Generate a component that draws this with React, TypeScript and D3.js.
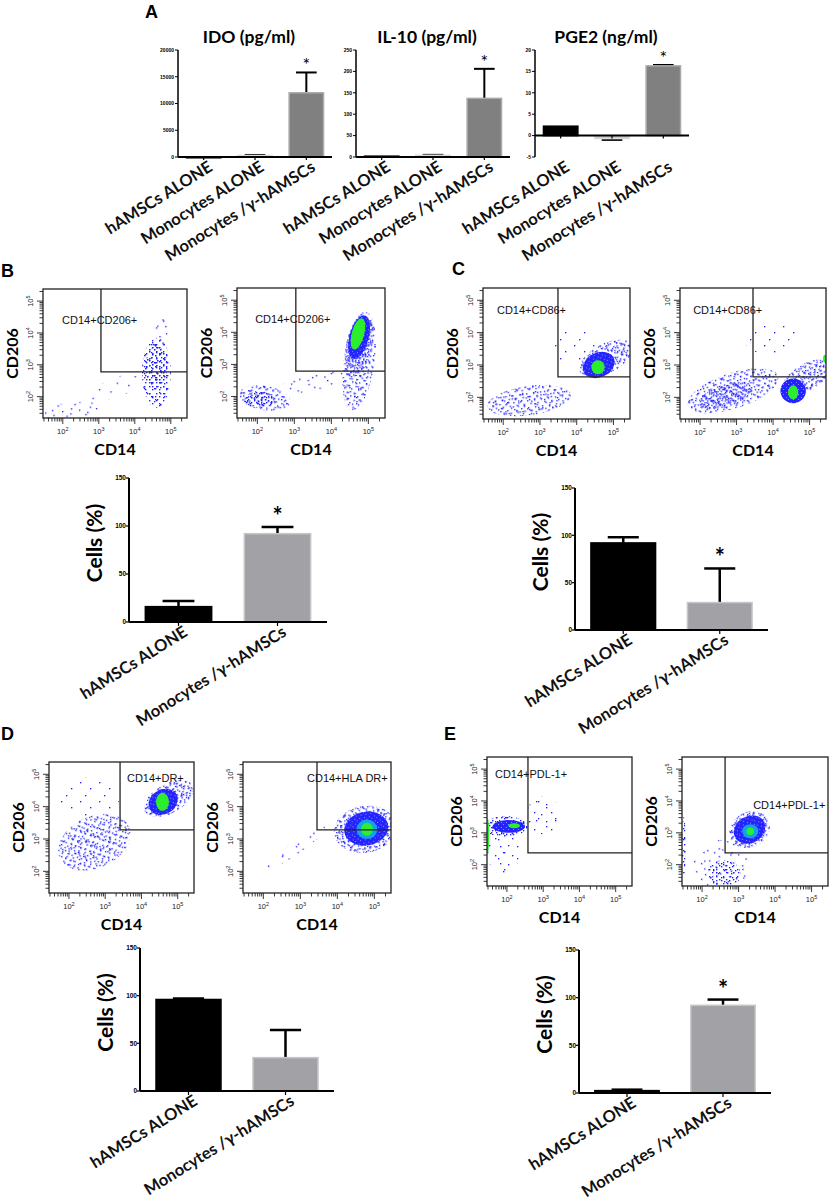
import * as d3 from "d3";

// --- fonts ---
const BOLD = "Lato, 'Open Sans', sans-serif";
const PLAIN = "'Liberation Sans', Arial, sans-serif";

// --- panel A data ---
const groupsA = ["hAMSCs ALONE", "Monocytes ALONE", "Monocytes /γ-hAMSCs"];
const idoMean = [0, 280, 12000];
const idoErr = [0, 380, 15800];
const idoTicks = [0, 5000, 10000, 15000, 20000];
const il10Mean = [2, 4, 137];
const il10Err = [2, 5, 206];
const il10Ticks = [0, 50, 100, 150, 200, 250];
const pge2Mean = [2.2, -0.7, 16.3];
const pge2Err = [2.2, -1.0, 16.5];
const pge2Ticks = [-5, 0, 5, 10, 15, 20];
const starA = [false, false, true];

// --- cells (%) bar data, panels B-E ---
const groupsCells = ["hAMSCs ALONE", "Monocytes /γ-hAMSCs"];
const cellsTicks = [0, 50, 100, 150];
const cellsB = [16, 92];
const cellsBErr = [22, 99];
const starB = [false, true];
const cellsC = [92, 29];
const cellsCErr = [98, 65];
const starC = [false, true];
const cellsD = [96, 35];
const cellsDErr = [97, 64];
const starD = [false, false];
const cellsE = [2.5, 92];
const cellsEErr = [3.5, 98];
const starE = [false, true];

// --- flow plots: event clouds as ellipses in log10 units (CD14, CD206) ---
type Cluster = { x: number; y: number; rx: number; ry: number; rot: number; d: string };
const decades = [2, 3, 4, 5];

const flowB1: Cluster[] = [
  { x: 2.3, y: 1.55, rx: 0.85, ry: 0.28, rot: 5, d: "sparse" },
  { x: 3.5, y: 2.3, rx: 0.8, ry: 0.3, rot: 20, d: "trace" },
  { x: 4.7, y: 4.0, rx: 0.22, ry: 0.55, rot: -10, d: "sparse" },
  { x: 4.6, y: 2.75, rx: 0.4, ry: 1.1, rot: 0, d: "light" },
  { x: 4.6, y: 2.95, rx: 0.3, ry: 0.65, rot: 0, d: "medium" },
];
const flowB2: Cluster[] = [
  { x: 3.5, y: 2.45, rx: 0.9, ry: 0.28, rot: 12, d: "sparse" },
  { x: 2.2, y: 1.95, rx: 0.7, ry: 0.38, rot: -10, d: "light" },
  { x: 2.05, y: 1.9, rx: 0.4, ry: 0.25, rot: 0, d: "medium" },
  { x: 4.75, y: 3.1, rx: 0.42, ry: 1.55, rot: -8, d: "light" },
  { x: 4.75, y: 3.6, rx: 0.35, ry: 1.0, rot: -12, d: "medium" },
  { x: 4.75, y: 3.85, rx: 0.26, ry: 0.7, rot: -15, d: "dense" },
  { x: 4.72, y: 3.95, rx: 0.17, ry: 0.5, rot: -15, d: "core" },
];
const flowC1: Cluster[] = [
  { x: 3.9, y: 3.6, rx: 0.7, ry: 0.55, rot: 0, d: "trace" },
  { x: 2.7, y: 1.9, rx: 1.15, ry: 0.45, rot: 8, d: "light" },
  { x: 4.8, y: 3.2, rx: 0.8, ry: 0.45, rot: 28, d: "medium" },
  { x: 4.6, y: 3.0, rx: 0.45, ry: 0.38, rot: 25, d: "dense" },
  { x: 4.58, y: 2.93, rx: 0.18, ry: 0.22, rot: 0, d: "core" },
];
const flowC2: Cluster[] = [
  { x: 4.0, y: 3.8, rx: 0.8, ry: 0.5, rot: 0, d: "trace" },
  { x: 2.9, y: 2.2, rx: 1.3, ry: 0.55, rot: 18, d: "light" },
  { x: 2.7, y: 2.05, rx: 0.75, ry: 0.35, rot: 18, d: "medium" },
  { x: 4.9, y: 2.6, rx: 0.75, ry: 0.42, rot: 32, d: "medium" },
  { x: 4.55, y: 2.2, rx: 0.35, ry: 0.38, rot: 0, d: "dense" },
  { x: 4.55, y: 2.15, rx: 0.14, ry: 0.22, rot: 0, d: "core" },
  { x: 5.42, y: 3.2, rx: 0.05, ry: 0.12, rot: 0, d: "core" },
];
const flowD1: Cluster[] = [
  { x: 2.5, y: 4.3, rx: 0.9, ry: 0.6, rot: 0, d: "trace" },
  { x: 2.7, y: 2.9, rx: 1.05, ry: 0.8, rot: 25, d: "light" },
  { x: 2.6, y: 2.9, rx: 0.6, ry: 0.5, rot: 25, d: "sparse" },
  { x: 4.75, y: 4.25, rx: 0.75, ry: 0.45, rot: 30, d: "medium" },
  { x: 4.6, y: 4.15, rx: 0.42, ry: 0.38, rot: 30, d: "dense" },
  { x: 4.58, y: 4.15, rx: 0.18, ry: 0.28, rot: 0, d: "core" },
];
const flowD2: Cluster[] = [
  { x: 2.9, y: 2.75, rx: 0.95, ry: 0.2, rot: 35, d: "sparse" },
  { x: 4.75, y: 3.3, rx: 0.85, ry: 0.72, rot: 10, d: "medium" },
  { x: 4.78, y: 3.32, rx: 0.6, ry: 0.52, rot: 10, d: "dense" },
  { x: 4.8, y: 3.3, rx: 0.28, ry: 0.3, rot: 0, d: "ring" },
  { x: 4.8, y: 3.3, rx: 0.16, ry: 0.2, rot: 0, d: "core" },
];
const flowE1: Cluster[] = [
  { x: 1.9, y: 2.4, rx: 0.45, ry: 0.7, rot: 0, d: "sparse" },
  { x: 3.0, y: 3.55, rx: 0.45, ry: 0.6, rot: 0, d: "sparse" },
  { x: 1.95, y: 3.2, rx: 0.62, ry: 0.32, rot: 0, d: "medium" },
  { x: 2.05, y: 3.2, rx: 0.45, ry: 0.2, rot: 0, d: "dense" },
  { x: 2.2, y: 3.22, rx: 0.16, ry: 0.08, rot: 0, d: "core" },
  { x: 1.47, y: 2.9, rx: 0.04, ry: 0.55, rot: 0, d: "core" },
];
const flowE2: Cluster[] = [
  { x: 2.5, y: 1.9, rx: 0.8, ry: 0.85, rot: 40, d: "sparse" },
  { x: 2.6, y: 1.7, rx: 0.45, ry: 0.45, rot: 0, d: "light" },
  { x: 1.5, y: 2.6, rx: 0.06, ry: 0.9, rot: 0, d: "light" },
  { x: 3.3, y: 3.1, rx: 0.58, ry: 0.55, rot: 30, d: "medium" },
  { x: 3.3, y: 3.1, rx: 0.45, ry: 0.42, rot: 30, d: "dense" },
  { x: 3.32, y: 3.05, rx: 0.22, ry: 0.22, rot: 0, d: "ring" },
  { x: 3.32, y: 3.05, rx: 0.1, ry: 0.12, rot: 0, d: "core" },
];

// --- styles ---
const X_LOG = [1.45, 5.45];
const Y_LOG = [1.33, 5.38];
const BLUE = "#1f1fff";
// dot tiles with co-prime sizes; stacking several gives an irregular speckle
const TILES = [
  { id: "t5", size: 5, dots: [[1, 2]] },
  { id: "t7", size: 7, dots: [[2, 1], [5, 4]] },
  { id: "t11", size: 11, dots: [[1, 3], [6, 8], [9, 1]] },
  { id: "t13", size: 13, dots: [[3, 2], [8, 6], [11, 11], [1, 9]] },
  { id: "t17", size: 17, dots: [[2, 5], [11, 2], [7, 13]] },
  { id: "t19", size: 19, dots: [[4, 3], [14, 9], [9, 16]] },
];
const LEVELS: Record<string, string[]> = {
  trace: ["t19"],
  sparse: ["t17", "t19"],
  light: ["t7", "t11", "t13", "t17"],
  medium: ["t5", "t7", "t11", "t13", "t17"],
  dense: ["solid-dense"],
  ring: ["solid-ring"],
  core: ["solid-core"],
};

function Patterns() {
  return (
    <defs>
      {TILES.map((p) => (
        <pattern key={p.id} id={`pat-${p.id}`} width={p.size} height={p.size} patternUnits="userSpaceOnUse">
          {p.dots.map(([dx, dy], i) => (
            <rect key={i} x={dx} y={dy} width={1.35} height={1.35} fill={BLUE} />
          ))}
        </pattern>
      ))}
      <pattern id="pat-solid-dense" width={5} height={5} patternUnits="userSpaceOnUse">
        <rect width={5} height={5} fill="#2424ff" />
        <rect x={1} y={2} width={1} height={1} fill="#8c8cff" />
        <rect x={3} y={4} width={1} height={1} fill="#8c8cff" />
      </pattern>
      <pattern id="pat-solid-ring" width={4} height={4} patternUnits="userSpaceOnUse">
        <rect width={4} height={4} fill="#14a2e6" />
      </pattern>
      <pattern id="pat-solid-core" width={4} height={4} patternUnits="userSpaceOnUse">
        <rect width={4} height={4} fill="#2cee2c" />
      </pattern>
    </defs>
  );
}

// rotated category label like GraphPad
function RotLabel({ x, y, text }: { x: number; y: number; text: string }) {
  return (
    <text
      transform={`translate(${x},${y}) rotate(-32)`}
      textAnchor="end"
      fontFamily={BOLD}
      fontWeight={700}
      fontSize={16.5}
      fill="#111"
    >
      {text}
    </text>
  );
}

type SmallProps = {
  title: string;
  mean: number[];
  err: number[];
  ticks: number[];
  x0: number;
  x1: number;
};

function SmallBars({ title, mean, err, ticks, x0, x1 }: SmallProps) {
  const top = 50;
  const bottom = 157;
  const y = d3.scaleLinear().domain([ticks[0], ticks[ticks.length - 1]]).range([bottom, top]);
  const x = d3.scaleBand().domain(groupsA).range([x0, x1]).paddingInner(0.33).paddingOuter(0.165);
  const bw = x.bandwidth();
  const fills = ["#000", "#cccccc", "#808080"];
  const strokes = ["#000", "#dcdcdc", "#aaaaaa"];
  return (
    <g>
      <text x={(x0 + x1) / 2 - 6} y={43} textAnchor="middle" fontFamily={BOLD} fontWeight={700} fontSize={17.5}>
        {title}
      </text>
      {groupsA.map((g, i) => {
        const bx = x(g)!;
        const cx = bx + bw / 2;
        const y0 = y(0);
        const ym = y(mean[i]);
        const ye = y(err[i]);
        return (
          <g key={g}>
            {err[i] !== mean[i] && (
              <g stroke="#000" strokeWidth={2}>
                <line x1={cx} x2={cx} y1={ym} y2={ye} />
                <line x1={cx - bw * 0.3} x2={cx + bw * 0.3} y1={ye} y2={ye} />
              </g>
            )}
            <rect
              x={bx}
              y={Math.min(ym, y0)}
              width={bw}
              height={Math.max(Math.abs(y0 - ym), 0.8)}
              fill={fills[i]}
              stroke={strokes[i]}
              strokeWidth={1.5}
            />
            {starA[i] && (
              <text x={cx} y={ye - 1} textAnchor="middle" fontFamily={BOLD} fontSize={18}>
                *
              </text>
            )}
            <line x1={cx} x2={cx} y1={y0} y2={y0 + 3} stroke="#000" strokeWidth={1.2} />
            <RotLabel x={cx + 10} y={bottom + 13} text={g} />
          </g>
        );
      })}
      <line x1={x0} x2={x0} y1={top} y2={bottom} stroke="#000" strokeWidth={1.5} />
      <line x1={x0} x2={x1} y1={y(0)} y2={y(0)} stroke="#000" strokeWidth={2} />
      {ticks.map((t) => (
        <g key={t}>
          <line x1={x0 - 3} x2={x0} y1={y(t)} y2={y(t)} stroke="#000" strokeWidth={1} />
          <text x={x0 - 4} y={y(t) + 1.8} textAnchor="end" fontFamily={PLAIN} fontWeight={700} fontSize={5}>
            {t}
          </text>
        </g>
      ))}
    </g>
  );
}

type CellsProps = {
  ax: number;
  width: number;
  top: number;
  bottom: number;
  mean: number[];
  err: number[];
  star: boolean[];
};

function CellsChart({ ax, width, top, bottom, mean, err, star }: CellsProps) {
  const y = d3.scaleLinear().domain([0, 150]).range([bottom, top]);
  const x = d3.scaleBand().domain(groupsCells).range([ax, ax + width]).paddingInner(0.33).paddingOuter(0.165);
  const bw = x.bandwidth();
  const fills = ["#000", "#a2a2a6"];
  const strokes = ["#000", "#c6c6c8"];
  const midY = (top + bottom) / 2 - 7;
  return (
    <g>
      {groupsCells.map((g, i) => {
        const bx = x(g)!;
        const cx = bx + bw / 2;
        const ym = y(mean[i]);
        const ye = y(err[i]);
        return (
          <g key={g}>
            <g stroke="#000" strokeWidth={2.5}>
              <line x1={cx} x2={cx} y1={ym} y2={ye} />
              <line x1={cx - bw * 0.24} x2={cx + bw * 0.24} y1={ye} y2={ye} />
            </g>
            <rect x={bx} y={ym} width={bw} height={bottom - ym} fill={fills[i]} stroke={strokes[i]} strokeWidth={1.5} />
            {star[i] && (
              <text x={cx} y={ye - 2} textAnchor="middle" fontFamily={BOLD} fontWeight={700} fontSize={24}>
                *
              </text>
            )}
            <line x1={cx} x2={cx} y1={bottom} y2={bottom + 4} stroke="#000" strokeWidth={1.2} />
            <RotLabel x={cx + 10} y={bottom + 13} text={g} />
          </g>
        );
      })}
      <line x1={ax} x2={ax} y1={top} y2={bottom} stroke="#000" strokeWidth={2} />
      <line x1={ax} x2={ax + width} y1={bottom} y2={bottom} stroke="#000" strokeWidth={2} />
      {cellsTicks.map((t) => (
        <g key={t}>
          <line x1={ax - 3} x2={ax} y1={y(t)} y2={y(t)} stroke="#000" strokeWidth={1.2} />
          <text x={ax - 3} y={y(t) + 2.2} textAnchor="end" fontFamily={PLAIN} fontWeight={700} fontSize={6.5}>
            {t}
          </text>
        </g>
      ))}
      <text
        transform={`translate(${ax - 35 + 7.5},${midY}) rotate(-90)`}
        textAnchor="middle"
        fontFamily={BOLD}
        fontWeight={700}
        fontSize={21}
      >
        Cells (%)
      </text>
    </g>
  );
}

type FlowProps = {
  uid: string;
  frame: [number, number, number, number];
  clusters: Cluster[];
  gate: [number, number];
  label: string;
  labelAt: [number, number];
};

function FlowPlot({ uid, frame, clusters, gate, label, labelAt }: FlowProps) {
  const [l, r, t, b] = frame;
  const x = d3.scaleLog().domain([10 ** X_LOG[0], 10 ** X_LOG[1]]).range([l, r]);
  const y = d3.scaleLog().domain([10 ** Y_LOG[0], 10 ** Y_LOG[1]]).range([b, t]);
  const dx = x(1000) - x(100);
  const dy = y(100) - y(1000);
  const isMajor = (v: number) => Math.abs(Math.log10(v) - Math.round(Math.log10(v))) < 1e-6;
  const gx = x(10 ** gate[0]);
  const gy = y(10 ** gate[1]);
  return (
    <g>
      <defs>
        <clipPath id={`clip-${uid}`}>
          <rect x={l} y={t} width={r - l} height={b - t} />
        </clipPath>
      </defs>
      <g clipPath={`url(#clip-${uid})`}>
        {clusters.map((c, i) => {
          const cx = x(10 ** c.x);
          const cy = y(10 ** c.y);
          return (
            <g key={i} transform={`rotate(${-c.rot} ${cx} ${cy})`}>
              {LEVELS[c.d].map((p) => (
                <ellipse key={p} cx={cx} cy={cy} rx={c.rx * dx} ry={c.ry * dy} fill={`url(#pat-${p})`} />
              ))}
            </g>
          );
        })}
      </g>
      <rect x={l} y={t} width={r - l} height={b - t} fill="none" stroke="#222" strokeWidth={1.3} />
      <path d={`M${gx},${t}V${gy}H${r}`} fill="none" stroke="#222" strokeWidth={1.3} />
      <text x={x(10 ** labelAt[0])} y={y(10 ** labelAt[1]) + 4} fontFamily={PLAIN} fontSize={11} fill="#111">
        {label}
      </text>
      {x.ticks().map((v, i) => (
        <line key={`xt${i}`} x1={x(v)} x2={x(v)} y1={b} y2={b + (isMajor(v) ? 6 : 3.5)} stroke="#222" strokeWidth={0.9} />
      ))}
      {y.ticks().map((v, i) => (
        <line key={`yt${i}`} x1={l} x2={l - (isMajor(v) ? 6 : 3.5)} y1={y(v)} y2={y(v)} stroke="#222" strokeWidth={0.9} />
      ))}
      {decades.map((e) => (
        <text key={`xl${e}`} x={x(10 ** e)} y={b + 16} textAnchor="middle" fontFamily={PLAIN} fontSize={7.5} fill="#222">
          10
          <tspan dy={-3.5} fontSize={5.5}>
            {e}
          </tspan>
        </text>
      ))}
      {decades.map((e) => (
        <text
          key={`yl${e}`}
          transform={`translate(${l - 10},${y(10 ** e)}) rotate(-90)`}
          textAnchor="middle"
          fontFamily={PLAIN}
          fontSize={7.5}
          fill="#222"
        >
          10
          <tspan dy={-3.5} fontSize={5.5}>
            {e}
          </tspan>
        </text>
      ))}
      <text x={(l + r) / 2} y={b + 37} textAnchor="middle" fontFamily={BOLD} fontWeight={700} fontSize={16}>
        CD14
      </text>
      <text
        transform={`translate(${l - 25.5},${(t + b) / 2}) rotate(-90)`}
        textAnchor="middle"
        fontFamily={BOLD}
        fontWeight={700}
        fontSize={16}
      >
        CD206
      </text>
    </g>
  );
}

function PanelLetter({ x, y, t }: { x: number; y: number; t: string }) {
  return (
    <text x={x} y={y} fontFamily={PLAIN} fontWeight={700} fontSize={18}>
      {t}
    </text>
  );
}

export default function App() {
  return (
    <svg
      width={829}
      height={1200}
      style={{ position: "absolute", left: 0, top: 0, background: "#fff" }}
      xmlns="http://www.w3.org/2000/svg"
    >
      <Patterns />
      <rect width={829} height={1200} fill="#fff" />

      <PanelLetter x={145} y={18} t="A" />
      <SmallBars title="IDO (pg/ml)" mean={idoMean} err={idoErr} ticks={idoTicks} x0={178} x1={332} />
      <SmallBars title="IL-10 (pg/ml)" mean={il10Mean} err={il10Err} ticks={il10Ticks} x0={356} x1={510} />
      <SmallBars title="PGE2 (ng/ml)" mean={pge2Mean} err={pge2Err} ticks={pge2Ticks} x0={535} x1={689} />

      <PanelLetter x={1} y={277} t="B" />
      <FlowPlot uid="b1" frame={[43, 187, 289, 418]} clusters={flowB1} gate={[3.06, 2.78]} label="CD14+CD206+" labelAt={[1.98, 4.4]} />
      <FlowPlot uid="b2" frame={[237, 385, 288, 418]} clusters={flowB2} gate={[3.04, 2.79]} label="CD14+CD206+" labelAt={[1.94, 4.4]} />
      <CellsChart ax={129} width={198} top={478} bottom={622} mean={cellsB} err={cellsBErr} star={starB} />

      <PanelLetter x={452} y={275} t="C" />
      <FlowPlot uid="c1" frame={[483, 630, 288, 419]} clusters={flowC1} gate={[3.49, 2.63]} label="CD14+CD86+" labelAt={[1.83, 4.7]} />
      <FlowPlot uid="c2" frame={[680, 826, 288, 419]} clusters={flowC2} gate={[3.45, 2.63]} label="CD14+CD86+" labelAt={[1.81, 4.7]} />
      <CellsChart ax={575} width={193} top={488} bottom={630} mean={cellsC} err={cellsCErr} star={starC} />

      <PanelLetter x={1} y={740} t="D" />
      <FlowPlot uid="d1" frame={[49, 194, 762, 893]} clusters={flowD1} gate={[3.41, 3.28]} label="CD14+DR+" labelAt={[3.6, 4.89]} />
      <FlowPlot uid="d2" frame={[243, 391, 762, 893]} clusters={flowD2} gate={[3.45, 3.28]} label="CD14+HLA DR+" labelAt={[3.18, 4.89]} />
      <CellsChart ax={140} width={194} top={948} bottom={1091} mean={cellsD} err={cellsDErr} star={starD} />

      <PanelLetter x={444} y={740} t="E" />
      <FlowPlot uid="e1" frame={[487, 632, 757, 886]} clusters={flowE1} gate={[2.58, 2.37]} label="CD14+PDL-1+" labelAt={[1.67, 4.85]} />
      <FlowPlot uid="e2" frame={[682, 828, 757, 886]} clusters={flowE2} gate={[2.63, 2.37]} label="CD14+PDL-1+" labelAt={[3.4, 3.87]} />
      <CellsChart ax={579} width={192} top={950} bottom={1093} mean={cellsE} err={cellsEErr} star={starE} />
    </svg>
  );
}
